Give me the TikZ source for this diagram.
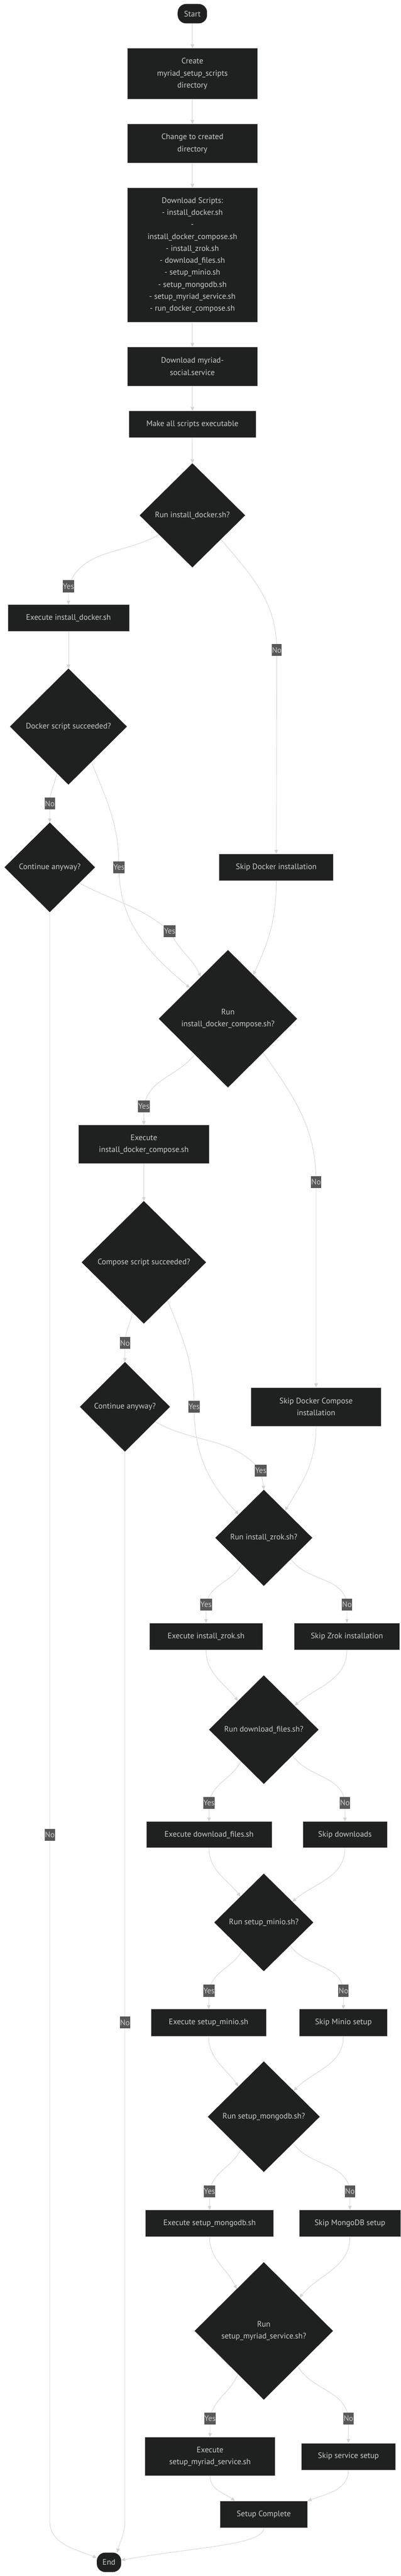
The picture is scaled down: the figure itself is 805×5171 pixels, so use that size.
\documentclass[tikz,border=0pt]{standalone}
\usepackage{fontspec}
\setmainfont{PT Sans}
\usetikzlibrary{shapes.geometric,arrows.meta,calc}
\definecolor{nodefill}{HTML}{1F2020}
\definecolor{nodeborder}{HTML}{C8C8C8}
\definecolor{nodetext}{HTML}{CCCCCC}
\definecolor{edgecol}{HTML}{D3D3D3}
\definecolor{lblfill}{HTML}{585858}
\pgfdeclarelayer{bg}
\pgfsetlayers{bg,main}
\tikzset{
  base/.style={font=\fontsize{16pt}{24pt}\selectfont, text=nodetext, align=center, inner sep=0pt, outer sep=0pt},
  box/.style={base, rectangle, fill=nodefill, draw=nodeborder, line width=0.8pt},
  dia/.style={base, diamond, aspect=1, fill=nodefill},
  term/.style={base, rectangle, rounded corners=17pt, fill=nodefill},
  lbl/.style={base, fill=lblfill, minimum height=24pt, inner xsep=0.5pt},
  conn/.style={draw=edgecol, line width=0.9pt, -{Triangle[length=8pt,width=7pt]}}
}
\begin{document}
\begin{tikzpicture}[x=1pt,y=-1pt]
\useasboundingbox (0,0) rectangle (805,5171);
% main column
\node[term, minimum width=59pt, minimum height=39pt] (start) at (386.5,27.5) {Start};
\node[box, minimum width=262pt, minimum height=102pt] (create) at (386.5,148) {Create\\myriad\_setup\_scripts\\directory};
\node[box, minimum width=262pt, minimum height=78pt] (change) at (386.5,288) {Change to created\\directory};
\node[box, minimum width=262pt, minimum height=270pt] (dls) at (386.5,512) {Download Scripts:\\- install\_docker.sh\\-\\install\_docker\_compose.sh\\- install\_zrok.sh\\- download\_files.sh\\- setup\_minio.sh\\- setup\_mongodb.sh\\- setup\_myriad\_service.sh\\- run\_docker\_compose.sh};
\node[box, minimum width=262pt, minimum height=78pt] (dlsvc) at (386.5,735.5) {Download myriad-\\social.service};
\node[box, minimum width=256pt, minimum height=53pt] (mkex) at (386.5,851.5) {Make all scripts executable};
\node[dia, minimum width=212pt, minimum height=209pt] (d1) at (386.5,1034.5) {Run install\_docker.sh?};
\node[box, minimum width=244pt, minimum height=53pt] (ex1) at (137.5,1240.5) {Execute install\_docker.sh};
\node[box, minimum width=230pt, minimum height=54pt] (skd) at (555,1741) {Skip Docker installation};
\node[dia, minimum width=235pt, minimum height=233pt] (d2) at (137.5,1458.5) {Docker script succeeded?};
\node[dia, minimum width=182pt, minimum height=180pt] (c1) at (100,1741) {Continue anyway?};
\node[dia, minimum width=278pt, minimum height=276pt] (d3) at (458,2045) {Run\\install\_docker\_compose.sh?};
\node[box, minimum width=262pt, minimum height=78pt] (ex2) at (289,2297) {Execute\\install\_docker\_compose.sh};
\node[dia, minimum width=250pt, minimum height=246pt] (d4) at (289,2534) {Compose script succeeded?};
\node[dia, minimum width=181pt, minimum height=180pt] (c2) at (251,2824) {Continue anyway?};
\node[box, minimum width=262pt, minimum height=78pt] (skdc) at (635,2824) {Skip Docker Compose\\installation};
\node[dia, minimum width=195pt, minimum height=193pt] (d5) at (530,3087) {Run install\_zrok.sh?};
\node[box, minimum width=227pt, minimum height=54pt] (exz) at (414,3285) {Execute install\_zrok.sh};
\node[box, minimum width=212pt, minimum height=54pt] (skz) at (697,3285) {Skip Zrok installation};
\node[dia, minimum width=220pt, minimum height=218pt] (d6) at (530,3472) {Run download\_files.sh?};
\node[box, minimum width=252pt, minimum height=53pt] (exdl) at (420,3683) {Execute download\_files.sh};
\node[box, minimum width=170pt, minimum height=53pt] (skdl) at (693,3683) {Skip downloads};
\node[dia, minimum width=199pt, minimum height=196pt] (d7) at (530,3859) {Run setup\_minio.sh?};
\node[box, minimum width=232pt, minimum height=54pt] (exmn) at (419,4060) {Execute setup\_minio.sh};
\node[box, minimum width=177pt, minimum height=54pt] (skmn) at (690,4060) {Skip Minio setup};
\node[dia, minimum width=225pt, minimum height=222pt] (d8) at (530,4249) {Run setup\_mongodb.sh?};
\node[box, minimum width=257pt, minimum height=54pt] (exmg) at (421,4463) {Execute setup\_mongodb.sh};
\node[box, minimum width=203pt, minimum height=54pt] (skmg) at (703,4463) {Skip MongoDB setup};
\node[dia, minimum width=278pt, minimum height=276pt] (d9) at (530,4679) {Run\\setup\_myriad\_service.sh?};
\node[box, minimum width=261pt, minimum height=78pt] (exsv) at (422,4931) {Execute\\setup\_myriad\_service.sh};
\node[box, minimum width=190pt, minimum height=54pt] (sksv) at (700,4931) {Skip service setup};
\node[box, minimum width=176pt, minimum height=54pt] (done) at (530,5047) {Setup Complete};
\node[term, minimum width=49pt, minimum height=39pt] (end) at (219,5143.5) {End};
% edge labels
\node[lbl] (yes1) at (137.5,1177) {Yes};
\node[lbl] (no1) at (556,1305) {No};
\node[lbl] (no2) at (100,1613) {No};
\node[lbl] (yes2) at (239,1741) {Yes};
\node[lbl] (yes3) at (341,1869) {Yes};
\node[lbl] (no4) at (100,3683) {No};
\node[lbl] (yes5) at (289,2221) {Yes};
\node[lbl] (no6) at (635,2373) {No};
\node[lbl] (no7) at (251,2696) {No};
\node[lbl] (yes8) at (390,2824) {Yes};
\node[lbl] (yes9) at (524,2952) {Yes};
\node[lbl] (no10) at (251,4060) {No};
\node[lbl] (yes11) at (414,3221) {Yes};
\node[lbl] (no12) at (697,3221) {No};
\node[lbl] (yes13) at (420,3619) {Yes};
\node[lbl] (no14) at (693,3619) {No};
\node[lbl] (yes15) at (420,3996) {Yes};
\node[lbl] (no16) at (690,3996) {No};
\node[lbl] (yes17) at (421,4399) {Yes};
\node[lbl] (no18) at (703,4399) {No};
\node[lbl] (yes19) at (422,4855) {Yes};
\node[lbl] (no20) at (700,4855) {No};
\coordinate (k1) at (100,5060);
\coordinate (k2) at (251,5060);
\begin{pgfonlayer}{bg}
\fill[white] (0,0) rectangle (805,5171);
\draw[conn] (start) -- (create);
\draw[conn] (create) -- (change);
\draw[conn] (change) -- (dls);
\draw[conn] (dls) -- (dlsvc);
\draw[conn] (dlsvc) -- (mkex);
\draw[conn] (mkex) -- (d1);
\draw[conn] (d1.210) to[out=-150,in=70] (yes1.center) -- (ex1);
\draw[conn] (d1.320) to[out=-50,in=90] (no1.center) -- (skd);
\draw[conn] (ex1) -- (d2);
\draw[conn] (d2.256) to[out=-100,in=90] (no2.center) -- (c1);
\draw[conn] (d2.303) to[out=-68,in=90] (yes2.center) to[out=-90,in=140] (d3.141);
\draw[conn] (c1.332) to[out=-28,in=140] (yes3.center) to[out=-65,in=115] (d3.123);
\draw[conn] (skd) to[out=-90,in=65] (d3.60);
\draw[conn] (c1) -- (no4.center) -- (k1) to[out=-90,in=158] (end.160);
\draw[conn] (d3.227) to[out=-128,in=80] (yes5.center) -- (ex2);
\draw[conn] (d3.316) to[out=-55,in=90] (no6.center) -- (skdc);
\draw[conn] (ex2) -- (d4);
\draw[conn] (d4.257) to[out=-98,in=90] (no7.center) -- (c2);
\draw[conn] (d4.302) to[out=-68,in=90] (yes8.center) to[out=-90,in=134] (d5.137);
\draw[conn] (c2.334) to[out=-30,in=130] (yes9.center) to[out=-85,in=95] (d5.north);
\draw[conn] (skdc) to[out=-90,in=58] (d5.52);
\draw[conn] (c2) -- (no10.center) -- (k2) to[out=-90,in=75] (end.50);
\draw[conn] (d5.230) to[out=-118,in=80] (yes11.center) -- (exz);
\draw[conn] (d5.322) to[out=-55,in=95] (no12.center) -- (skz);
\draw[conn] (exz) to[out=-90,in=128] (d6.132);
\draw[conn] (skz) to[out=-90,in=40] (d6.38);
\draw[conn] (d6.234) to[out=-117,in=80] (yes13.center) -- (exdl);
\draw[conn] (d6.318) to[out=-55,in=95] (no14.center) -- (skdl);
\draw[conn] (exdl) to[out=-90,in=128] (d7.132);
\draw[conn] (skdl) to[out=-90,in=40] (d7.36);
\draw[conn] (d7.232) to[out=-117,in=80] (yes15.center) -- (exmn);
\draw[conn] (d7.319) to[out=-55,in=95] (no16.center) -- (skmn);
\draw[conn] (exmn) to[out=-90,in=125] (d8.130);
\draw[conn] (skmn) to[out=-90,in=45] (d8.41);
\draw[conn] (d8.235) to[out=-117,in=80] (yes17.center) -- (exmg);
\draw[conn] (d8.318) to[out=-55,in=95] (no18.center) -- (skmg);
\draw[conn] (exmg) to[out=-90,in=115] (d9.123);
\draw[conn] (skmg) to[out=-90,in=50] (d9.43);
\draw[conn] (d9.239) to[out=-112,in=80] (yes19.center) -- (exsv);
\draw[conn] (d9.314) to[out=-60,in=95] (no20.center) -- (sksv);
\draw[conn] (exsv) to[out=-90,in=145] (done.155);
\draw[conn] (sksv) to[out=-90,in=20] (done.17);
\draw[conn] (done) to[out=-90,in=10,out distance=35pt,in distance=160pt] (end.10);
\end{pgfonlayer}
\end{tikzpicture}
\end{document}
